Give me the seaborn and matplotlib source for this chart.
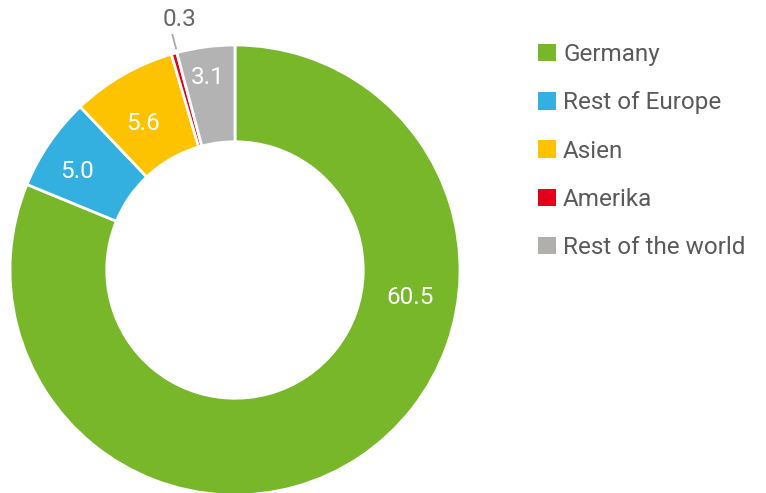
import matplotlib
matplotlib.use("Agg")
import matplotlib.pyplot as plt
import numpy as np
import seaborn as sns
from matplotlib.patches import Patch

regions = ["Germany", "Rest of Europe", "Asien", "Amerika", "Rest of the world"]
values = [60.5, 5.0, 5.6, 0.3, 3.1]
colors = ["#78b72a", "#33b0e0", "#fdc300", "#e2001a", "#b3b3b3"]
legend_colors = ["#78b72a", "#33b0e0", "#fdc300", "#e2001a", "#b1afac"]

sns.set_theme(style="white")
plt.rcParams["font.family"] = ["Roboto", "DejaVu Sans"]

fig = plt.figure(figsize=(7.66, 4.93), dpi=100)
ax = fig.add_axes([10 / 766, -2 / 493, 450 / 766, 450 / 493])

wedges, _ = ax.pie(
    values,
    colors=colors,
    startangle=90,
    counterclock=False,
    radius=1.0,
    wedgeprops=dict(width=0.43, edgecolor="white", linewidth=2),
)
ax.set_xlim(-1, 1)
ax.set_ylim(-1, 1)
ax.set_aspect("equal")
ax.axis("off")

# label spot inside each ring segment: (angle in deg, radius); None -> outside callout
label_pos = [(-9, 0.79), (148, 0.83), (122, 0.77), None, (98, 0.865)]
for i, (w, v) in enumerate(zip(wedges, values)):
    mid = (w.theta1 + w.theta2) / 2
    label = f"{v:.1f}"
    if label_pos[i] is None:
        a = np.deg2rad(mid - 0.8)
        ax.plot([np.cos(a) * 1.015, np.cos(a) * 1.085],
                [np.sin(a) * 1.015, np.sin(a) * 1.085],
                color="#aaaaaa", lw=1.3, solid_capstyle="butt", clip_on=False)
        t = np.deg2rad(mid - 3.3)
        ax.text(np.cos(t) * 1.14, np.sin(t) * 1.14, label,
                ha="center", va="center", fontsize=17.5, color="#666666")
    else:
        ang, r = label_pos[i]
        a = np.deg2rad(ang)
        ax.text(np.cos(a) * r, np.sin(a) * r, label,
                ha="center", va="center", fontsize=17.5, color="white")

handles = [Patch(facecolor=c, edgecolor="none") for c in legend_colors]
leg = fig.legend(
    handles, regions,
    loc="upper left",
    bbox_to_anchor=(538 / 766, 1 - 43 / 493),
    frameon=False,
    fontsize=17.5,
    handlelength=0.74,
    handleheight=0.74,
    handletextpad=0.29,
    labelspacing=1.04,
    borderaxespad=0,
    borderpad=0,
)
for t in leg.get_texts():
    t.set_color("#5a5a5a")

fig.savefig("out.png", dpi=100)
